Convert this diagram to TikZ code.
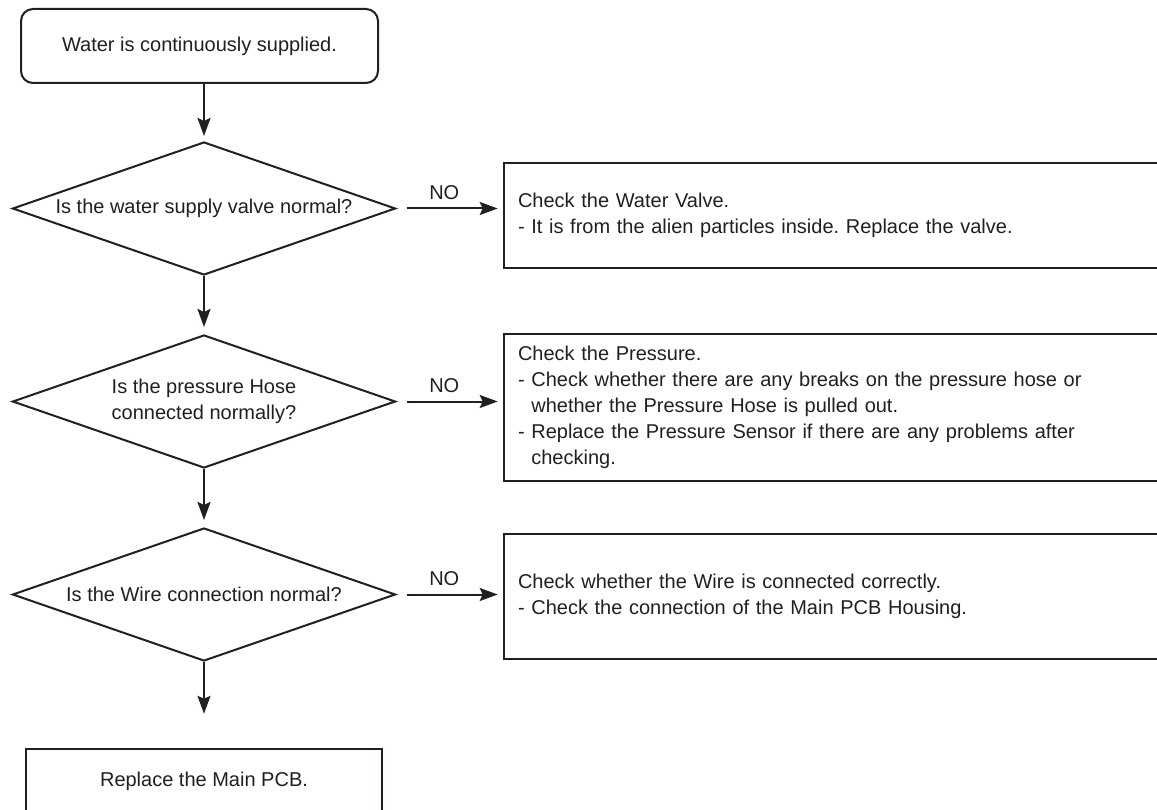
\documentclass[tikz,border=0pt]{standalone}
\usepackage{fontspec}
\setmainfont{Liberation Sans}
\usetikzlibrary{shapes.geometric,arrows.meta}
\definecolor{ink}{HTML}{231F20}
\frenchspacing
\begin{document}
\begin{tikzpicture}[x=1pt,y=-1pt,
  font=\fontsize{20}{26}\selectfont, text=ink,
  every node/.style={inner sep=0pt},
  startbox/.style={draw=ink, line width=2pt, rounded corners=12pt, minimum width=357pt, minimum height=74pt},
  decision/.style={draw=ink, diamond, line width=2pt, minimum width=383pt, minimum height=133pt, align=center, aspect=2.88},
  actbox/.style={draw=ink, line width=2.6pt, text width=638pt, inner xsep=14pt, align=left},
  endbox/.style={draw=ink, line width=2.4pt, minimum width=356pt, minimum height=64pt},
  flow/.style={draw=ink, line width=2pt, -{Stealth[length=18pt,width=13pt,inset=3pt]}},
  nolabel/.style={pos=0.45, above=8pt}
]
\useasboundingbox (0,0) rectangle (1157,810);
\clip (0,0) rectangle (1157,810);
\fill[white] (0,0) rectangle (1157,810);

\node[startbox] (S) at (199.5,46) {Water is continuously supplied.};
\node[decision] (D1) at (204,208.5) {Is the water supply valve normal?};
\node[decision] (D2) at (204,401.5) {Is the pressure Hose\\connected normally?};
\node[decision] (D3) at (204,594.5) {Is the Wire connection normal?};
\node[endbox] (E) at (204,781) {Replace the Main PCB.};

\node[actbox, minimum height=105pt] (B1) at (837,215.5) {Check the Water Valve.\\- It is from the alien particles inside. Replace the valve.};
\node[actbox, minimum height=147pt] (B2) at (837,407.5) {Check the Pressure.\\- Check whether there are any breaks on the pressure hose or\\\phantom{- }whether the Pressure Hose is pulled out.\\- Replace the Pressure Sensor if there are any problems after\\\phantom{- }checking.};
\node[actbox, minimum height=125pt] (B3) at (837,596.5) {Check whether the Wire is connected correctly.\\- Check the connection of the Main PCB Housing.};

\draw[flow, shorten >=5pt] (S.south -| D1.north) -- (D1.north);
\draw[flow, shorten >=7pt] (D1.south) -- (D2.north);
\draw[flow, shorten >=7pt] (D2.south) -- (D3.north);
\draw[flow, shorten >=34pt] (D3.south) -- (E.north);

\draw[flow, shorten <=10pt, shorten >=5pt] (D1.east) -- (D1.east -| B1.west) node[nolabel] (N1) {NO};
\draw[flow, shorten <=10pt, shorten >=5pt] (D2.east) -- (D2.east -| B2.west) node[nolabel] (N2) {NO};
\draw[flow, shorten <=10pt, shorten >=5pt] (D3.east) -- (D3.east -| B3.west) node[nolabel] (N3) {NO};
\end{tikzpicture}
\end{document}
